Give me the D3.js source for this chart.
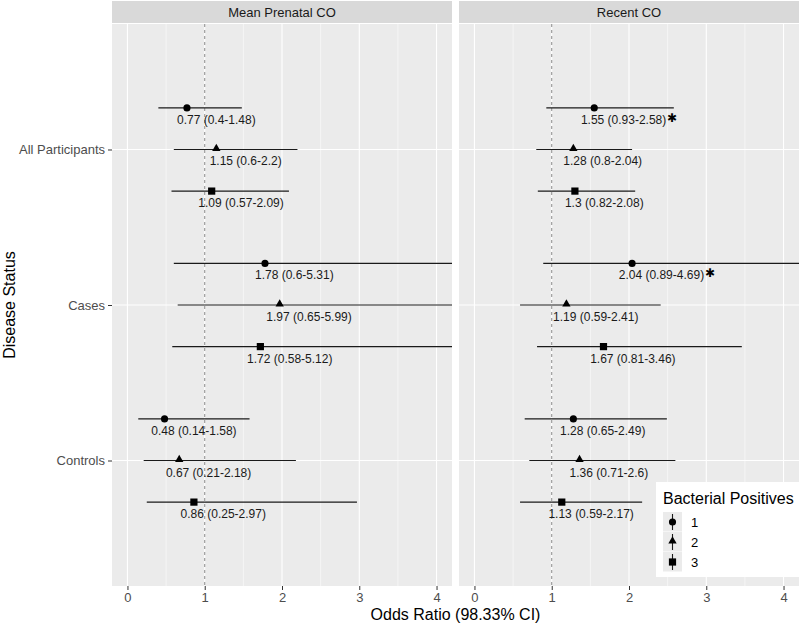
<!DOCTYPE html>
<html>
<head>
<meta charset="utf-8">
<script src="https://cdn.jsdelivr.net/npm/d3@7"></script>
<style>
  body { margin: 0; background: #fff; }
  text { font-family: "Liberation Sans", Arial, sans-serif; }
</style>
</head>
<body>
<div id="viz"></div>
<script>
// categories
const groups = ['All Participants', 'Cases', 'Controls'];
const exposures = ['Mean Prenatal CO', 'Recent CO'];
const bacterial = ['1', '2', '3'];
const xTicks = [0, 1, 2, 3, 4];
const xMinor = [0.5, 1.5, 2.5, 3.5];

// rows run group by group, bacterial positives 1,2,3 inside each group
const prenatalOR = [0.77, 1.15, 1.09, 1.78, 1.97, 1.72, 0.48, 0.67, 0.86];
const prenatalLow = [0.4, 0.6, 0.57, 0.6, 0.65, 0.58, 0.14, 0.21, 0.25];
const prenatalHigh = [1.48, 2.2, 2.09, 5.31, 5.99, 5.12, 1.58, 2.18, 2.97];
const prenatalSig = [false, false, false, false, false, false, false, false, false];

const recentOR = [1.55, 1.28, 1.3, 2.04, 1.19, 1.67, 1.28, 1.36, 1.13];
const recentLow = [0.93, 0.8, 0.82, 0.89, 0.59, 0.81, 0.65, 0.71, 0.59];
const recentHigh = [2.58, 2.04, 2.08, 4.69, 2.41, 3.46, 2.49, 2.6, 2.17];
const recentSig = [true, false, false, true, false, false, false, false, false];

const width = 800, height = 626;
const panelTop = 24, panelBottom = 586;
const panels = [{left: 112, right: 452}, {left: 459, right: 799}];

function makeRows(or, lo, hi, sig) {
  return or.map((d, i) => ({
    group: groups[Math.floor(i / 3)],
    bact: bacterial[i % 3],
    or: d, lo: lo[i], hi: hi[i], sig: sig[i],
  }));
}
const panelData = [
  makeRows(prenatalOR, prenatalLow, prenatalHigh, prenatalSig),
  makeRows(recentOR, recentLow, recentHigh, recentSig),
];

const svg = d3.select('#viz').append('svg')
  .attr('width', width).attr('height', height);

const y = d3.scalePoint().domain(groups).range([panelTop, panelBottom]).padding(0.807);
const dodge = d3.scalePoint().domain(bacterial).range([-41.6, 41.6]);
const shapeOf = {'1': d3.symbolCircle, '2': d3.symbolTriangle, '3': d3.symbolSquare};
const sizeOf = {'1': 40, '2': 30, '3': 52};
const fmt = d => String(d);

panels.forEach((p, k) => {
  const x = d3.scaleLinear().domain([-0.2, 4.2]).range([p.left, p.right]);
  const g = svg.append('g');

  // strip
  g.append('rect').attr('x', p.left).attr('y', 1).attr('width', p.right - p.left).attr('height', 22)
    .attr('fill', '#d9d9d9');
  g.append('text').attr('x', (p.left + p.right) / 2).attr('y', 17)
    .attr('text-anchor', 'middle').attr('font-size', 13).attr('fill', '#1a1a1a')
    .text(exposures[k]);

  // panel background
  g.append('rect').attr('x', p.left).attr('y', panelTop).attr('width', p.right - p.left)
    .attr('height', panelBottom - panelTop).attr('fill', '#ebebeb');

  // grid
  g.selectAll('.minor').data(xMinor).join('line')
    .attr('x1', d => x(d)).attr('x2', d => x(d)).attr('y1', panelTop).attr('y2', panelBottom)
    .attr('stroke', '#fff').attr('stroke-width', 0.55);
  g.selectAll('.major').data(xTicks).join('line')
    .attr('x1', d => x(d)).attr('x2', d => x(d)).attr('y1', panelTop).attr('y2', panelBottom)
    .attr('stroke', '#fff').attr('stroke-width', 1.1);
  g.selectAll('.hgrid').data(groups).join('line')
    .attr('x1', p.left).attr('x2', p.right).attr('y1', d => y(d)).attr('y2', d => y(d))
    .attr('stroke', '#fff').attr('stroke-width', 1.1);

  // reference line at OR = 1
  g.append('line').attr('x1', x(1)).attr('x2', x(1)).attr('y1', panelTop).attr('y2', panelBottom)
    .attr('stroke', '#6f6f6f').attr('stroke-width', 0.8).attr('stroke-dasharray', '3,3');

  // x axis
  const ax = g.append('g').attr('transform', `translate(0,${panelBottom})`)
    .call(d3.axisBottom(x).tickValues(xTicks).tickSize(4).tickPadding(3).tickFormat(d3.format('d')));
  ax.select('.domain').remove();
  ax.selectAll('line').attr('stroke', '#333');
  ax.selectAll('text').attr('font-size', 13).attr('fill', '#4d4d4d')
    .attr('font-family', '"Liberation Sans", Arial, sans-serif');

  // clipped marks
  const clipId = 'clip' + k;
  svg.append('clipPath').attr('id', clipId).append('rect')
    .attr('x', p.left).attr('y', panelTop).attr('width', p.right - p.left).attr('height', panelBottom - panelTop);
  const marks = g.append('g').attr('clip-path', `url(#${clipId})`);
  const rows = panelData[k];
  const yPos = d => y(d.group) + dodge(d.bact);

  marks.selectAll('.ci').data(rows).join('line')
    .attr('x1', d => x(d.lo)).attr('x2', d => x(d.hi))
    .attr('y1', yPos).attr('y2', yPos)
    .attr('stroke', '#1a1a1a').attr('stroke-width', 1.1);
  marks.selectAll('.pt').data(rows).join('path')
    .attr('d', d => d3.symbol(shapeOf[d.bact], sizeOf[d.bact])())
    .attr('transform', d => `translate(${x(d.or)},${yPos(d) + (d.bact === '2' ? -1 : 0)})`)
    .attr('fill', '#000');

  const labels = marks.selectAll('.lab').data(rows).join('text')
    .attr('x', d => x(d.or + 0.38)).attr('y', d => yPos(d) + 16)
    .attr('text-anchor', 'middle').attr('font-size', 12).attr('fill', '#1a1a1a')
    .text(d => `${fmt(d.or)} (${fmt(d.lo)}-${fmt(d.hi)})`);

  labels.each(function(d) {
    if (!d.sig) return;
    const w = this.getComputedTextLength();
    marks.append('text')
      .attr('x', x(d.or + 0.38) + w / 2 + 1).attr('y', yPos(d) + 14)
      .attr('font-family', '"DejaVu Sans", sans-serif')
      .attr('font-size', 12).attr('fill', '#000').text('\u2731');
  });
});

// y axis (left panel only)
const yAxis = svg.append('g').attr('transform', `translate(${panels[0].left},0)`)
  .call(d3.axisLeft(y).tickSize(4).tickPadding(3));
yAxis.select('.domain').remove();
yAxis.selectAll('line').attr('stroke', '#333');
yAxis.selectAll('text').attr('font-size', 13).attr('fill', '#4d4d4d')
  .attr('font-family', '"Liberation Sans", Arial, sans-serif');

// axis titles
svg.append('text').attr('x', (panels[0].left + panels[1].right) / 2).attr('y', 620)
  .attr('text-anchor', 'middle').attr('font-size', 16).attr('fill', '#000')
  .text('Odds Ratio (98.33% CI)');
svg.append('text').attr('transform', `translate(15,${(panelTop + panelBottom) / 2}) rotate(-90)`)
  .attr('text-anchor', 'middle').attr('font-size', 16).attr('fill', '#000')
  .text('Disease Status');

// legend
const leg = svg.append('g');
leg.append('rect').attr('x', 656).attr('y', 482).attr('width', 144).attr('height', 95).attr('fill', '#fff');
leg.append('text').attr('x', 663).attr('y', 504).attr('font-size', 16).attr('fill', '#000')
  .text('Bacterial Positives');
const keyY = d3.scaleBand().domain(bacterial).range([512, 572]);
const key = leg.selectAll('.key').data(bacterial).join('g')
  .attr('transform', d => `translate(663,${keyY(d)})`);
key.append('rect').attr('width', 19).attr('height', keyY.bandwidth() - 0.5).attr('fill', '#ebebeb');
key.append('line').attr('x1', 9.5).attr('x2', 9.5).attr('y1', 2).attr('y2', keyY.bandwidth() - 2)
  .attr('stroke', '#1a1a1a').attr('stroke-width', 1.1);
key.append('path')
  .attr('d', d => d3.symbol(shapeOf[d], sizeOf[d])())
  .attr('transform', d => `translate(9.5,${keyY.bandwidth() / 2 + (d === '2' ? -1 : 0)})`)
  .attr('fill', '#000');
key.append('text').attr('x', 28).attr('y', keyY.bandwidth() / 2 + 4.5)
  .attr('font-size', 13).attr('fill', '#000').text(d => d);
</script>
</body>
</html>
